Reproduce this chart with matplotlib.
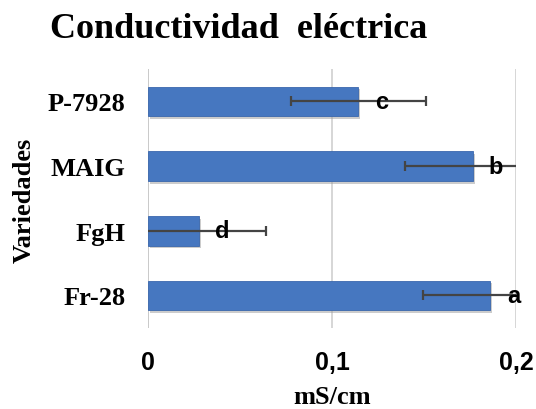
import matplotlib
matplotlib.use("Agg")
import matplotlib.pyplot as plt
import matplotlib.patheffects as pe

categories = ["Fr-28", "FgH", "MAIG", "P-7928"]
values = [0.186, 0.0277, 0.1763, 0.1143]
errors = [0.0365, 0.0365, 0.0366, 0.0368]
letters = ["a", "d", "b", "c"]
xticks = [0, 0.1, 0.2]
xticklabels = ["0", "0,1", "0,2"]

serif = ["Liberation Serif", "DejaVu Serif"]
sans = ["Liberation Sans", "DejaVu Sans"]

fig = plt.figure(figsize=(5.36, 4.10), dpi=100)
ax = fig.add_axes([0.276, 0.198, 0.687, 0.631])

y = list(range(len(categories)))
bars = ax.barh(y, values, height=0.46, color="#4677C0", edgecolor="#3A67AD",
               linewidth=0.6, zorder=3)
for b in bars:
    b.set_path_effects([pe.SimplePatchShadow(offset=(1.5, -2), shadow_rgbFace="#9a9a9a", alpha=0.5),
                        pe.Normal()])
ax.errorbar(values, y, xerr=errors, fmt="none", ecolor="#444444", elinewidth=1.6,
            capsize=3.6, capthick=1.6, zorder=4)
for yi, v, l in zip(y, values, letters):
    ax.text(v + 0.0125, yi, l, ha="center", va="center", fontsize=17,
            fontweight="bold", family=sans, color="black", zorder=5)

ax.set_xlim(0, 0.2)
ax.set_ylim(-0.5, 3.5)
ax.set_xticks(xticks)
ax.set_xticklabels(xticklabels, family=sans, fontweight="bold", fontsize=18)
ax.set_yticks(y)
ax.set_yticklabels(categories, family=serif, fontweight="bold", fontsize=19)
ax.tick_params(length=0)
ax.tick_params(axis="x", pad=16)
ax.tick_params(axis="y", pad=16)
ax.grid(axis="x", color="#D0D0D0", linewidth=1.2, zorder=0)
ax.axvline(0, color="#C8C8C8", linewidth=1.2, zorder=1)
for s in ax.spines.values():
    s.set_visible(False)
ax.set_axisbelow(True)

ax.set_xlabel("mS/cm", family=serif, fontweight="bold", fontsize=19, labelpad=8)
fig.text(0.045, 0.512, "Variedades", rotation=90, ha="center", va="center",
         family=serif, fontweight="bold", fontsize=19)
fig.text(0.445, 0.927, "Conductividad  eléctrica", ha="center", va="center",
         family=serif, fontweight="bold", fontsize=26)

fig.savefig("out.png", dpi=100)
